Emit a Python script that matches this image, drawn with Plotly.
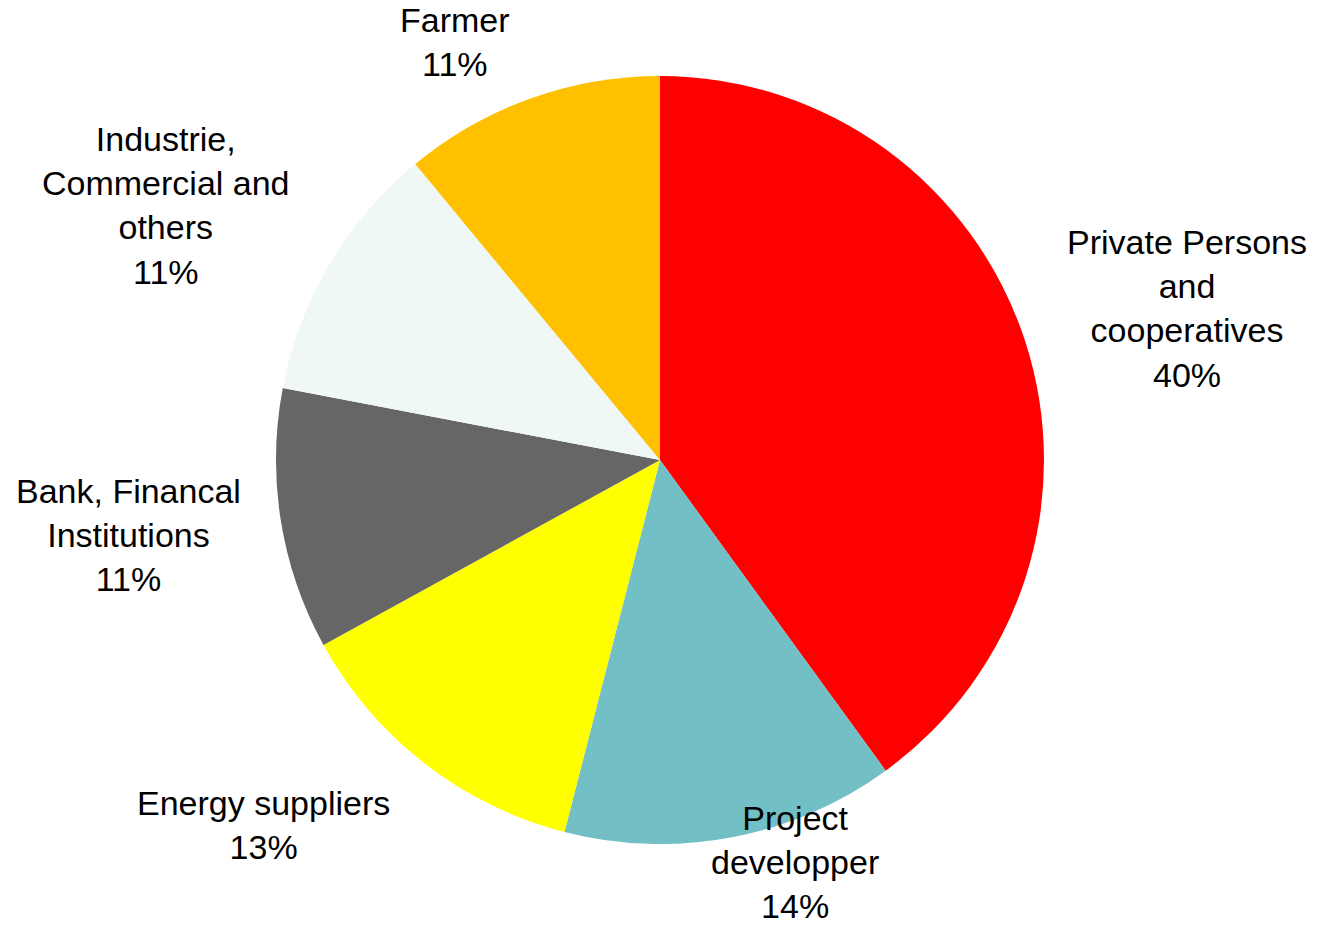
import plotly.graph_objects as go

categories = [
    "Private Persons<br>and<br>cooperatives",
    "Project<br>developper",
    "Energy suppliers",
    "Bank, Financal<br>Institutions",
    "Industrie,<br>Commercial and<br>others",
    "Farmer",
]
values = [40, 14, 13, 11, 11, 11]
colors = ["#FF0000", "#72BFC5", "#FFFF00", "#666666", "#F0F8F7", "#FFC000"]

# label block centres in pixels (x, y from top)
label_pos = [(1187, 309), (795, 862), (263, 825), (128, 535), (166, 206), (455, 42)]

W, H = 1320, 925
cx, cy, r = 660, 460, 384

fig = go.Figure(go.Pie(
    labels=[c.replace("<br>", " ") for c in categories],
    values=values,
    marker=dict(colors=colors, line=dict(width=0)),
    sort=False,
    direction="clockwise",
    rotation=0,
    textinfo="none",
    hoverinfo="label+percent",
    domain=dict(x=[(cx - r) / W, (cx + r) / W], y=[(H - cy - r) / H, (H - cy + r) / H]),
    showlegend=False,
))

annotations = []
for cat, v, (px, py) in zip(categories, values, label_pos):
    annotations.append(dict(
        text=f"{cat}<br>{v}%",
        x=px / W, y=1 - py / H, xref="paper", yref="paper",
        xanchor="center", yanchor="middle", showarrow=False, align="center",
        font=dict(family="Liberation Sans, Arial, sans-serif", size=34, color="#000000"),
    ))

fig.update_layout(
    width=W, height=H,
    margin=dict(l=0, r=0, t=0, b=0),
    paper_bgcolor="white", plot_bgcolor="white",
    annotations=annotations,
)

fig.write_html("out.html")
